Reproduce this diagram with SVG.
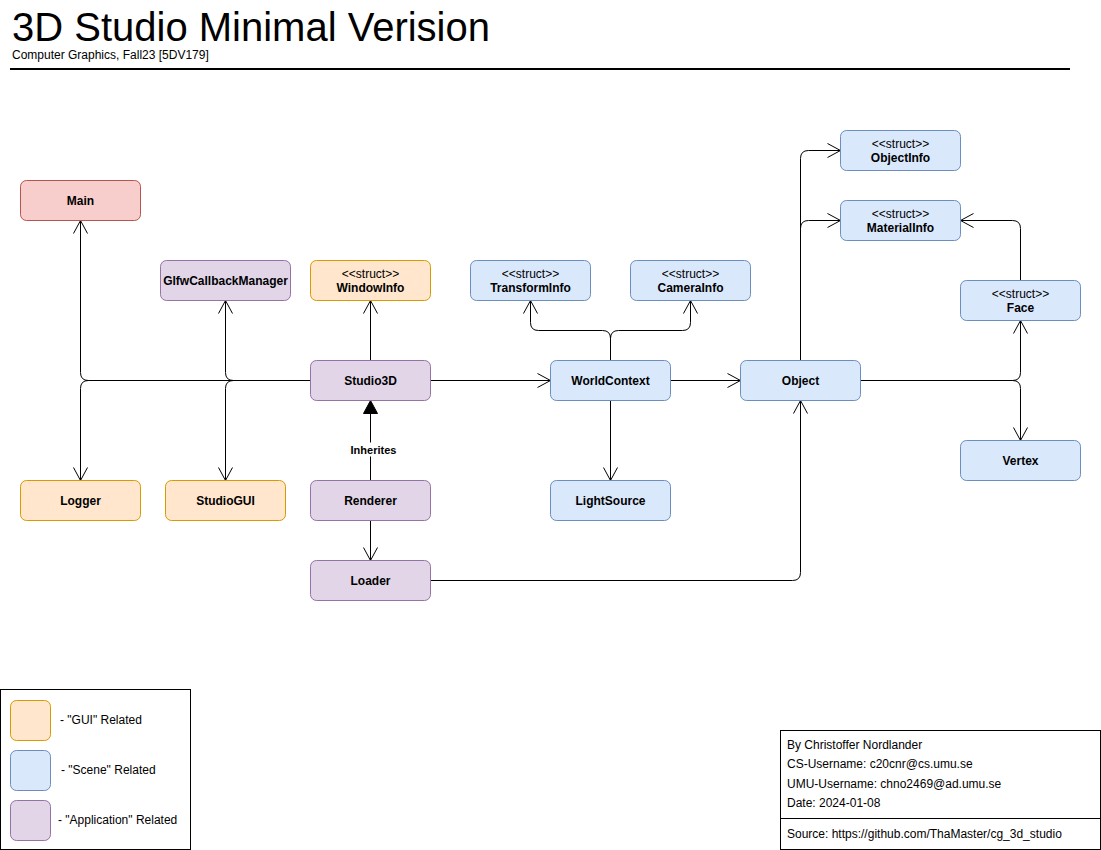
<svg xmlns="http://www.w3.org/2000/svg" width="1101" height="850" viewBox="0 0 1101 850">
<defs>
<style>
text{font-family:"Liberation Sans",Arial,sans-serif;fill:#000}
.n{font-size:12px;font-weight:bold;text-anchor:middle;dominant-baseline:central}
.s{font-size:12px;text-anchor:middle;dominant-baseline:central}
.t{font-size:12px;dominant-baseline:central}
.red{fill:#f8cecc;stroke:#b85450}
.gui{fill:#ffe6cc;stroke:#d79b00}
.app{fill:#e1d5e7;stroke:#9673a6}
.scn{fill:#dae8fc;stroke:#6c8ebf}
.e{fill:none;stroke:#000;stroke-width:1;marker-end:url(#open)}
</style>
<marker id="open" viewBox="-15 -9 17 18" refX="0" refY="0" markerWidth="17" markerHeight="18" markerUnits="userSpaceOnUse" orient="auto">
<path d="M-13,-7 L0,0 L-13,7" fill="none" stroke="#000" stroke-width="1"/>
</marker>
</defs>
<rect width="1101" height="850" fill="#fff"/>
<g id="header">
<text x="12" y="41" style="font-size:40px">3D Studio Minimal Verision</text>
<text x="12" y="59" style="font-size:12px">Computer Graphics, Fall23 [5DV179]</text>
<line x1="10" y1="69" x2="1070" y2="69" stroke="#000" stroke-width="2"/>
</g>
<g id="connectors" transform="translate(0.5,0.5)">
<path class="e" d="M310,380 H88 Q80,380 80,372 V220"/>
<path class="e" d="M310,380 H88 Q80,380 80,388 V480"/>
<path class="e" d="M310,380 H233 Q225,380 225,372 V300"/>
<path class="e" d="M310,380 H233 Q225,380 225,388 V480"/>
<path class="e" d="M370,360 V300"/>
<path class="e" d="M430,380 H550"/>
<path d="M370,480 V413" fill="none" stroke="#000"/>
<path d="M370,400 L377,413 L363,413 Z" fill="#000" stroke="#000"/>
<rect x="348" y="442" width="50" height="14" fill="#fff"/>
<text class="n" x="373" y="449" style="font-size:11px">Inherites</text>
<path class="e" d="M370,520 V560"/>
<path class="e" d="M610,360 V338 Q610,330 602,330 H538 Q530,330 530,322 V300"/>
<path class="e" d="M610,360 V338 Q610,330 618,330 H682 Q690,330 690,322 V300"/>
<path class="e" d="M610,400 V480"/>
<path class="e" d="M670,380 H740"/>
<path class="e" d="M430,580 H792 Q800,580 800,572 V400"/>
<path class="e" d="M800,360 V158 Q800,150 808,150 H840"/>
<path class="e" d="M800,360 V228 Q800,220 808,220 H840"/>
<path class="e" d="M860,380 H1012 Q1020,380 1020,372 V320"/>
<path class="e" d="M860,380 H1012 Q1020,380 1020,388 V440"/>
<path class="e" d="M1020,280 V228 Q1020,220 1012,220 H960"/>
</g>
<g id="nodes" transform="translate(0.5,0.5)">
<g id="Main"><rect class="red" x="20" y="180" width="120" height="40" rx="6"/><text class="n" x="80" y="200">Main</text></g>
<g id="GlfwCallbackManager"><rect class="app" x="160" y="260" width="130" height="40" rx="6"/><text class="n" x="225" y="280">GlfwCallbackManager</text></g>
<g id="WindowInfo"><rect class="gui" x="310" y="260" width="120" height="40" rx="6"/><text class="s" x="370" y="273">&lt;&lt;struct&gt;&gt;</text><text class="n" x="370" y="287">WindowInfo</text></g>
<g id="TransformInfo"><rect class="scn" x="470" y="260" width="120" height="40" rx="6"/><text class="s" x="530" y="273">&lt;&lt;struct&gt;&gt;</text><text class="n" x="530" y="287">TransformInfo</text></g>
<g id="CameraInfo"><rect class="scn" x="630" y="260" width="120" height="40" rx="6"/><text class="s" x="690" y="273">&lt;&lt;struct&gt;&gt;</text><text class="n" x="690" y="287">CameraInfo</text></g>
<g id="ObjectInfo"><rect class="scn" x="840" y="130" width="120" height="40" rx="6"/><text class="s" x="900" y="143">&lt;&lt;struct&gt;&gt;</text><text class="n" x="900" y="157">ObjectInfo</text></g>
<g id="MaterialInfo"><rect class="scn" x="840" y="200" width="120" height="40" rx="6"/><text class="s" x="900" y="213">&lt;&lt;struct&gt;&gt;</text><text class="n" x="900" y="227">MaterialInfo</text></g>
<g id="Face"><rect class="scn" x="960" y="280" width="120" height="40" rx="6"/><text class="s" x="1020" y="293">&lt;&lt;struct&gt;&gt;</text><text class="n" x="1020" y="307">Face</text></g>
<g id="Studio3D"><rect class="app" x="310" y="360" width="120" height="40" rx="6"/><text class="n" x="370" y="380">Studio3D</text></g>
<g id="WorldContext"><rect class="scn" x="550" y="360" width="120" height="40" rx="6"/><text class="n" x="610" y="380">WorldContext</text></g>
<g id="Object"><rect class="scn" x="740" y="360" width="120" height="40" rx="6"/><text class="n" x="800" y="380">Object</text></g>
<g id="Vertex"><rect class="scn" x="960" y="440" width="120" height="40" rx="6"/><text class="n" x="1020" y="460">Vertex</text></g>
<g id="Logger"><rect class="gui" x="20" y="480" width="120" height="40" rx="6"/><text class="n" x="80" y="500">Logger</text></g>
<g id="StudioGUI"><rect class="gui" x="165" y="480" width="120" height="40" rx="6"/><text class="n" x="225" y="500">StudioGUI</text></g>
<g id="Renderer"><rect class="app" x="310" y="480" width="120" height="40" rx="6"/><text class="n" x="370" y="500">Renderer</text></g>
<g id="LightSource"><rect class="scn" x="550" y="480" width="120" height="40" rx="6"/><text class="n" x="610" y="500">LightSource</text></g>
<g id="Loader"><rect class="app" x="310" y="560" width="120" height="40" rx="6"/><text class="n" x="370" y="580">Loader</text></g>
</g>
<g id="legend">
<rect x="0.5" y="689.5" width="190" height="160" fill="#fff" stroke="#000"/>
<rect class="gui" x="10.5" y="700.5" width="40" height="40" rx="6"/>
<text class="t" x="60" y="720">- "GUI" Related</text>
<rect class="scn" x="10.5" y="750.5" width="40" height="40" rx="6"/>
<text class="t" x="61" y="770">- "Scene" Related</text>
<rect class="app" x="10.5" y="800.5" width="40" height="40" rx="6"/>
<text class="t" x="58" y="820">- "Application" Related</text>
</g>
<g id="info">
<rect x="780.5" y="730.5" width="320" height="119" fill="#fff" stroke="#000"/>
<line x1="780" y1="818.5" x2="1101" y2="818.5" stroke="#000"/>
<text class="t" x="787" y="745">By Christoffer Nordlander</text>
<text class="t" x="787" y="764">CS-Username: c20cnr@cs.umu.se</text>
<text class="t" x="787" y="784">UMU-Username: chno2469@ad.umu.se</text>
<text class="t" x="787" y="803">Date: 2024-01-08</text>
<text class="t" x="787" y="834">Source: https://github.com/ThaMaster/cg_3d_studio</text>
</g>
</svg>
